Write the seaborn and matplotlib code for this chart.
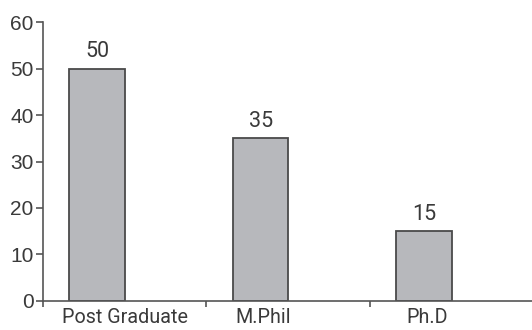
import matplotlib
matplotlib.use("Agg")
import matplotlib.pyplot as plt
import matplotlib.transforms as mtransforms
import seaborn as sns
import pandas as pd

categories = ["Post Graduate", "M.Phil", "Ph.D"]
values = [50, 35, 15]
y_ticks = [0, 10, 20, 30, 40, 50, 60]

sns.set_style("ticks")
plt.rcParams["font.family"] = ["Roboto", "DejaVu Sans"]

df = pd.DataFrame({"level": categories, "count": values})

fig = plt.figure(figsize=(5.32, 3.3), dpi=100)
ax = fig.add_axes([0.0803, 0.0879, 0.9197, 0.8454])

sns.barplot(data=df, x="level", y="count", ax=ax, width=0.34,
            color="#b7b8bc", edgecolor="#4a4a4a", linewidth=1.3,
            saturation=1)

ax.set_xlim(-0.333, 2.66)
ax.set_ylim(0, 60)
ax.set_yticks(y_ticks)
ax.set_xlabel("")
ax.set_ylabel("")

for s in ["top", "right"]:
    ax.spines[s].set_visible(False)
for s in ["left", "bottom"]:
    ax.spines[s].set_color("#555555")
    ax.spines[s].set_linewidth(1.2)

ax.tick_params(axis="y", direction="out", length=5, width=1.2, color="#555555",
               pad=1.5, labelsize=15, labelcolor="#3a3a3a")
for lab in ax.get_yticklabels():
    lab.set_fontfamily(["Liberation Sans", "DejaVu Sans"])

# category boundaries as minor ticks
boundaries = [i - 1 / 3 for i in range(len(categories))]
ax.set_xticks(boundaries, minor=True)
ax.tick_params(axis="x", which="minor", direction="out", length=4, width=1.2,
               color="#555555")
ax.set_xticks(range(len(categories)))
ax.set_xticklabels(categories)
ax.tick_params(axis="x", which="major", length=0, pad=5, labelsize=14.2,
               labelcolor="#3a3a3a")
label_shift_px = [27.5, 2, 3.5]
for lab, dx in zip(ax.get_xticklabels(), label_shift_px):
    lab.set_transform(lab.get_transform() +
                      mtransforms.ScaledTranslation(dx / 100, 0, fig.dpi_scale_trans))

for cont in ax.containers:
    ax.bar_label(cont, labels=[str(v) for v in values], padding=4.5,
                 fontsize=15.5, color="#3a3a3a")

fig.savefig("out.png", dpi=100)
